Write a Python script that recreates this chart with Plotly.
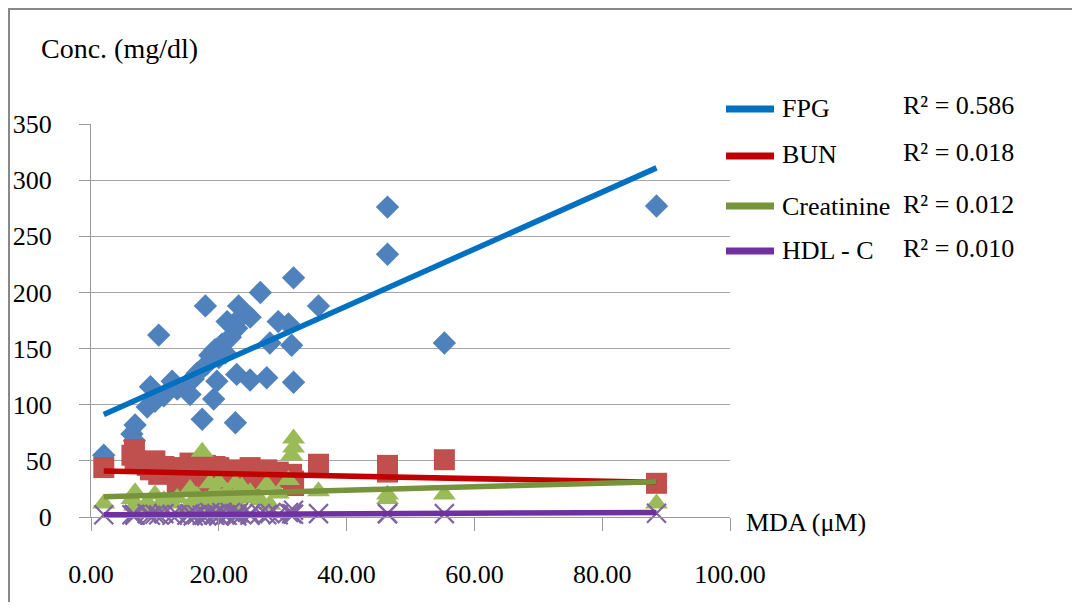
import numpy as np
import plotly.graph_objects as go

# ---------------- data ----------------
mda = [2.0, 6.4, 6.8, 6.9, 8.8, 9.3, 10.0, 10.6, 11.4, 12.7, 13.5, 15.0, 15.5, 16.0, 16.6,
       17.4, 17.9, 18.1, 18.6, 19.2, 19.4, 19.7, 20.0, 20.5, 21.0, 21.3, 21.8, 22.6, 22.8,
       22.8, 23.1, 23.6, 24.9, 24.9, 26.5, 27.5, 28.0, 29.3, 30.9, 31.4, 31.7, 31.7, 35.6,
       46.4, 46.4, 55.3, 88.5]
fpg = [55, 74, 68, 82, 98, 116, 103, 162, 108, 121, 114, 118, 109, 123, 128,
       87, 188, 136, 144, 105, 149, 121, 142, 154, 146, 174, 160, 84, 168,
       127, 188, 179, 178, 122, 200, 124, 155, 174, 172, 153, 213, 120, 188,
       276, 234, 155, 277]
bun = [44, 55, 60, 50, 46, 42, 50, 38, 45, 44, 30, 38, 48, 28, 42,
       26, 46, 30, 38, 22, 45, 33, 44, 26, 36, 30, 24, 38, 42,
       28, 30, 36, 44, 28, 40, 42, 34, 40, 35, 38, 28, 32, 47,
       46, 40, 51, 30]
creatinine = [12, 16, 10, 22, 13, 8, 20, 10, 15, 12, 17, 8, 25, 13, 19,
              58, 15, 10, 30, 17, 23, 13, 31, 17, 7, 22, 14, 30, 12,
              20, 8, 27, 17, 22, 15, 29, 11, 21, 33, 55, 70, 62, 23,
              16, 20, 20, 12]
hdl = [2, 2, 2.5, 1.5, 3, 1.5, 2.5, 2, 3, 1.5, 2, 1.5, 3, 1, 2,
       1.5, 2.5, 1, 4, 2, 1.5, 3, 1, 4, 2, 1.5, 4, 2, 3,
       1, 4, 2, 3, 1.5, 3, 2, 3, 2, 4, 3, 6, 2.5, 3,
       3, 3, 3, 3.3]

series_names = ["FPG", "BUN", "Creatinine", "HDL - C"]
r2_labels = ["R² = 0.586", "R² = 0.018", "R² = 0.012", "R² = 0.010"]
x_ticks = [0, 20, 40, 60, 80, 100]
y_ticks = [0, 50, 100, 150, 200, 250, 300, 350]

# ---------------- styling ----------------
FONT = "Liberation Serif, Times New Roman, serif"
marker_colors = ["#4F81BD", "#C0504D", "#9BBB59", "#8064A2"]
trend_colors = ["#0070C0", "#C00000", "#77933C", "#7030A0"]
symbols = ["diamond", "square", "triangle-up", "x-thin"]
sizes = [18, 21, 20, 19]

OFF = 8                      # page body margin
W, H = 1080 - 2 * OFF, 610 - 2 * OFF
# plot area (screen pixels) -> figure pixels
L, R, T, B = 91 - OFF, 730 - OFF, 124 - OFF, 517 - OFF


def px(sx):
    return (sx - OFF - L) / (R - L)


def py(sy):
    return (B - (sy - OFF)) / (B - T)


fig = go.Figure()
values = [fpg, bun, creatinine, hdl]

for name, vals, col, sym, sz in zip(series_names, values, marker_colors, symbols, sizes):
    if sym == "x-thin":
        marker = dict(symbol=sym, size=sz, color=col, line=dict(color=col, width=2.2))
    else:
        marker = dict(symbol=sym, size=sz, color=col, line=dict(width=0))
    fig.add_trace(go.Scatter(x=mda, y=vals, mode="markers", name=name, marker=marker,
                             cliponaxis=False, showlegend=False, hoverinfo="x+y"))

xarr = np.array(mda, dtype=float)
for name, vals, col in zip(series_names, values, trend_colors):
    slope, intercept = np.polyfit(xarr, np.array(vals, dtype=float), 1)
    xs = np.array([xarr.min(), xarr.max()])
    fig.add_trace(go.Scatter(x=xs, y=slope * xs + intercept, mode="lines",
                             line=dict(color=col, width=5.5), name=name + " trend",
                             showlegend=False, cliponaxis=False))

# ---------------- manual legend ----------------
shapes = []
annotations = []
leg_y = [109, 156, 206, 251]
text_y = [108, 154, 206, 250]
for name, col, r2, ly, ty in zip(series_names, trend_colors, r2_labels, leg_y, text_y):
    shapes.append(dict(type="line", xref="paper", yref="paper",
                       x0=px(726), x1=px(774), y0=py(ly), y1=py(ly),
                       line=dict(color=col, width=7)))
    annotations.append(dict(xref="paper", yref="paper", x=px(780), y=py(ty),
                            xanchor="left", yanchor="middle", showarrow=False,
                            text=name, font=dict(family=FONT, size=26, color="black")))
    annotations.append(dict(xref="paper", yref="paper", x=px(901), y=py(ty - 2),
                            xanchor="left", yanchor="middle", showarrow=False,
                            text=r2, font=dict(family=FONT, size=26, color="black")))

# axis titles
annotations.append(dict(xref="paper", yref="paper", x=px(39), y=py(48),
                        xanchor="left", yanchor="middle", showarrow=False,
                        text="Conc. (mg/dl)", font=dict(family=FONT, size=28, color="black")))
annotations.append(dict(xref="paper", yref="paper", x=px(744), y=py(522),
                        xanchor="left", yanchor="middle", showarrow=False,
                        text="MDA (μM)", font=dict(family=FONT, size=26, color="black")))

# outer chart border (top and left edges visible)
shapes.append(dict(type="rect", xref="paper", yref="paper",
                   x0=px(9), x1=px(1200), y0=py(9), y1=py(700),
                   line=dict(color="#888888", width=2), fillcolor="rgba(0,0,0,0)",
                   layer="below"))

fig.update_layout(
    width=W, height=H,
    margin=dict(l=L, r=W - R, t=T, b=H - B, autoexpand=False),
    paper_bgcolor="white", plot_bgcolor="white",
    font=dict(family=FONT, size=26, color="black"),
    showlegend=False,
    shapes=shapes, annotations=annotations,
    xaxis=dict(range=[0, 100], tickvals=x_ticks, tickformat=".2f",
               showline=True, linecolor="#9a9a9a", linewidth=1,
               ticks="outside", ticklen=13, tickcolor="#9a9a9a", tickwidth=1,
               showgrid=False, zeroline=False, ticklabelstandoff=21,
               tickfont=dict(family=FONT, size=26, color="black")),
    yaxis=dict(range=[0, 350], tickvals=y_ticks,
               showline=True, linecolor="#9a9a9a", linewidth=1,
               ticks="outside", ticklen=11, tickcolor="#9a9a9a", tickwidth=1,
               showgrid=True, gridcolor="#a6a6a6", gridwidth=1,
               zeroline=False, ticklabelstandoff=22,
               tickfont=dict(family=FONT, size=26, color="black")),
)

fig.write_html("out.html")
